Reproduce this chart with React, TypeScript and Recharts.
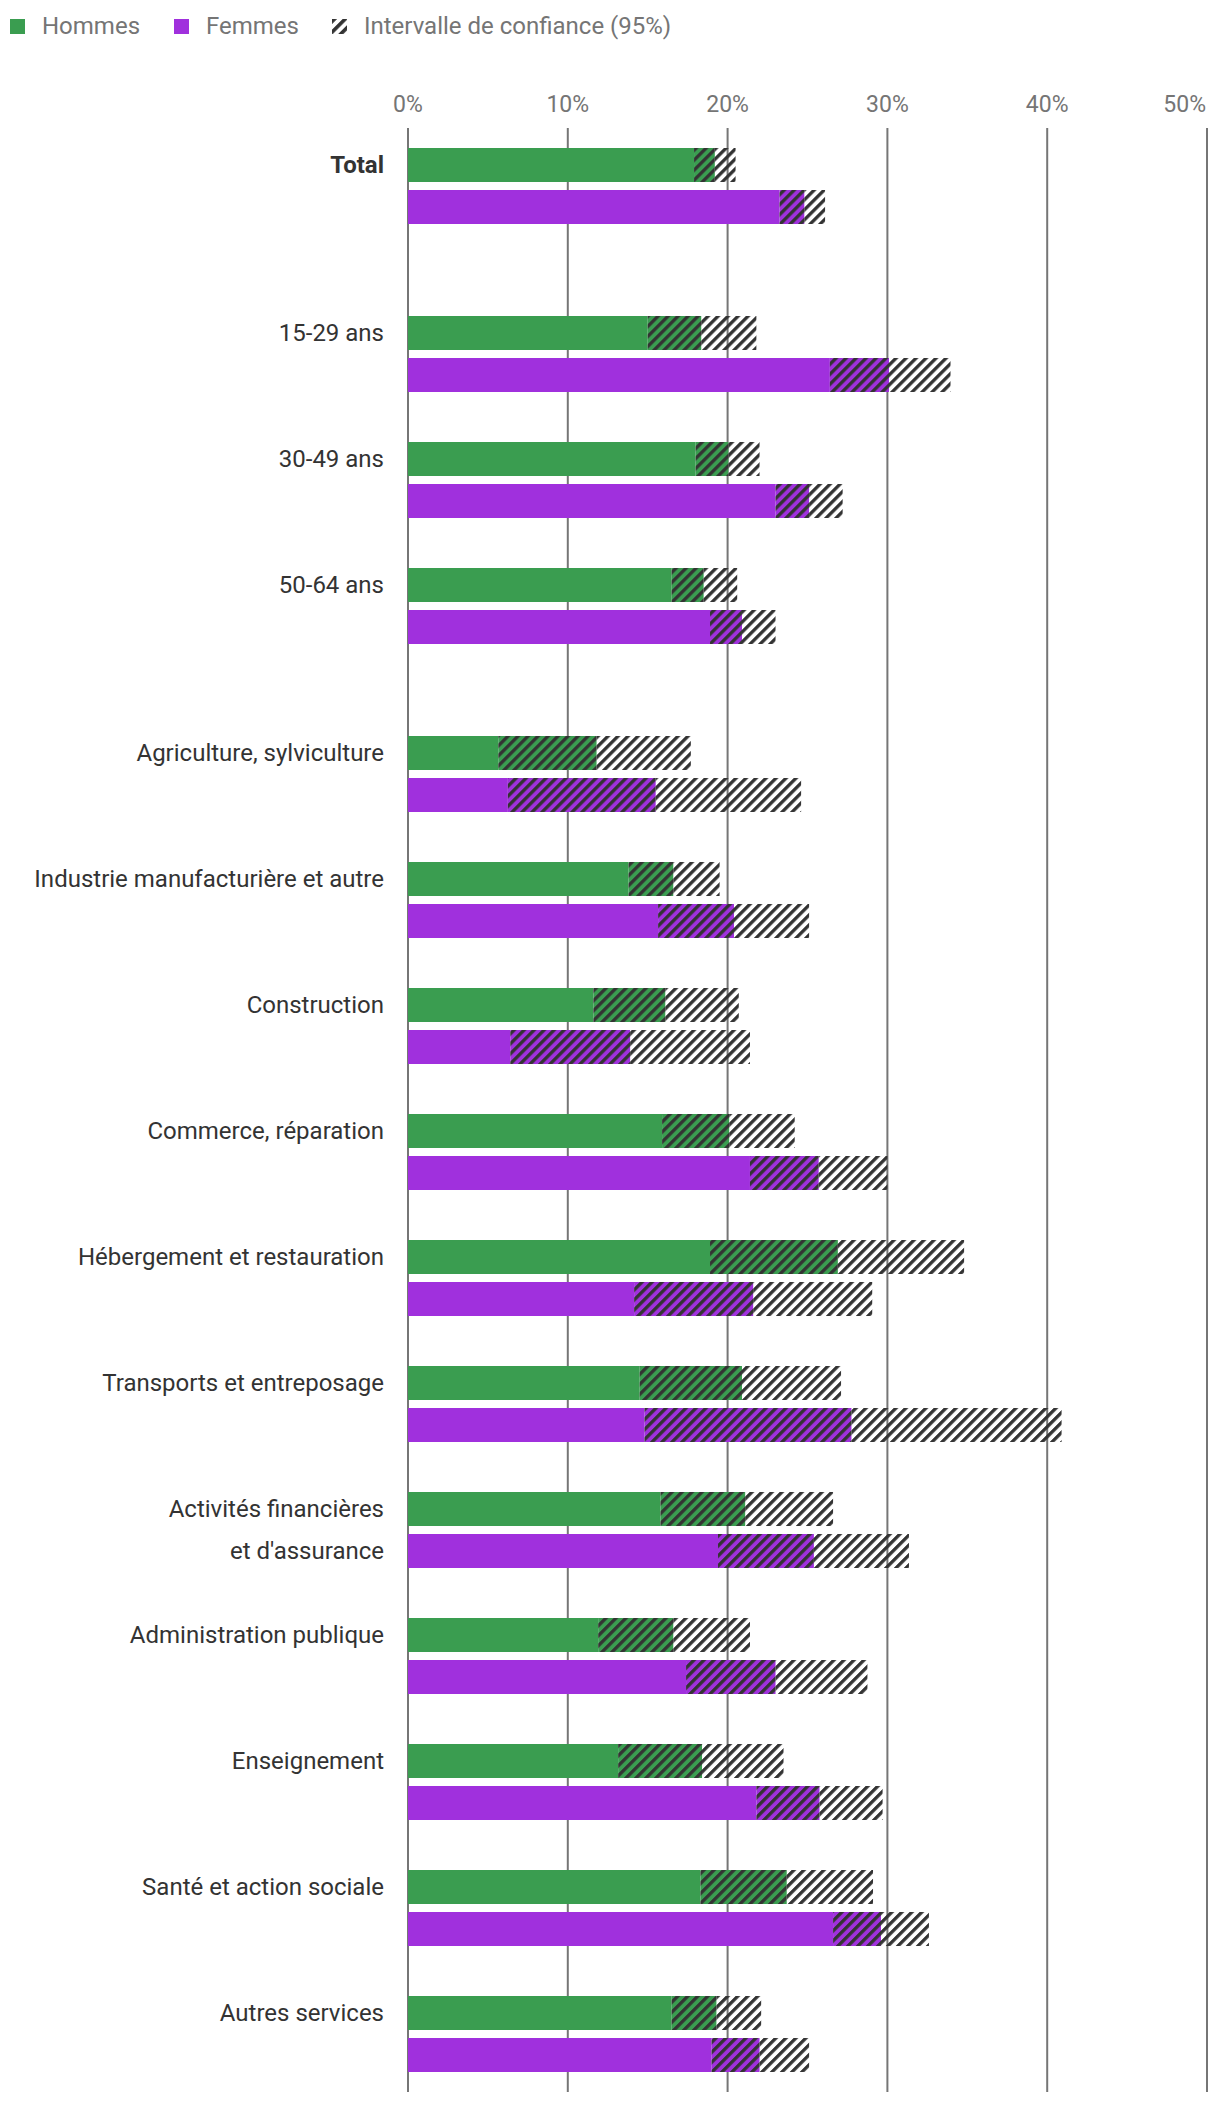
import { BarChart, Bar, XAxis, YAxis, CartesianGrid, Cell } from 'recharts';

const GREEN = '#3a9d50';
const PURPLE = '#a030dd';
const STRIPE = '#333333';
const GRID = '#767676';
const MUTED = '#757575';
const FONT = 'Roboto, "Noto Sans", sans-serif';

// categories, split in groups (a double gap separates groups)
const categories = [
  'Total',
  '15-29 ans',
  '30-49 ans',
  '50-64 ans',
  'Agriculture, sylviculture',
  'Industrie manufacturière et autre',
  'Construction',
  'Commerce, réparation',
  'Hébergement et restauration',
  'Transports et entreposage',
  "Activités financières\net d'assurance",
  'Administration publique',
  'Enseignement',
  'Santé et action sociale',
  'Autres services',
];
const groupSizes = [1, 3, 11];

// % : lower bound, estimate, upper bound of the 95% interval
const menLow = [17.9, 15.0, 18.0, 16.5, 5.65, 13.8, 11.6, 15.9, 18.9, 14.5, 15.8, 11.9, 13.15, 18.3, 16.5];
const menEst = [19.2, 18.35, 20.05, 18.5, 11.8, 16.6, 16.1, 20.1, 26.9, 20.9, 21.1, 16.6, 18.4, 23.7, 19.3];
const menHigh = [20.5, 21.8, 22.0, 20.6, 17.7, 19.5, 20.7, 24.2, 34.8, 27.1, 26.6, 21.4, 23.5, 29.1, 22.1];
const womenLow = [23.25, 26.4, 23.0, 18.9, 6.25, 15.65, 6.4, 21.4, 14.15, 14.8, 19.4, 17.4, 21.8, 26.6, 19.0];
const womenEst = [24.8, 30.1, 25.1, 20.9, 15.5, 20.4, 13.9, 25.7, 21.6, 27.75, 25.4, 23.0, 25.75, 29.6, 22.0];
const womenHigh = [26.1, 33.95, 27.2, 23.0, 24.6, 25.1, 21.4, 30.0, 29.05, 40.9, 31.35, 28.75, 29.7, 32.6, 25.1];

const xTicks = [0, 10, 20, 30, 40, 50];

type Row = {
  id: string;
  text?: string;
  bold?: boolean;
  sex?: 'h' | 'f';
  low?: number;
  ciLow?: number;
  ciHigh?: number;
};

function buildRows(): Row[] {
  const rows: Row[] = [];
  let gap = 0;
  let idx = 0;
  const blank = () => rows.push({ id: `gap-${gap++}` });
  groupSizes.forEach((size, gi) => {
    for (let k = 0; k < size; k++) {
      const i = idx++;
      const lines = categories[i].split('\n');
      const bold = i === 0;
      rows.push({
        id: `h-${i}`,
        text: lines[0],
        bold,
        sex: 'h',
        low: menLow[i],
        ciLow: +(menEst[i] - menLow[i]).toFixed(2),
        ciHigh: +(menHigh[i] - menEst[i]).toFixed(2),
      });
      rows.push({
        id: `f-${i}`,
        text: lines[1],
        bold,
        sex: 'f',
        low: womenLow[i],
        ciLow: +(womenEst[i] - womenLow[i]).toFixed(2),
        ciHigh: +(womenHigh[i] - womenEst[i]).toFixed(2),
      });
      if (k < size - 1) blank();
    }
    if (gi < groupSizes.length - 1) {
      blank();
      blank();
    }
  });
  return rows;
}

const rows = buildRows();
const rowById: Record<string, Row> = Object.fromEntries(rows.map((r) => [r.id, r]));

function CategoryTick({ x, y, payload }: any) {
  const row = rowById[payload.value];
  if (!row || !row.text) return null;
  return (
    <text
      x={x}
      y={y}
      dy="0.35em"
      textAnchor="end"
      fill="#333"
      fontSize={24}
      fontFamily={FONT}
      fontWeight={row.bold ? 700 : 400}
    >
      {row.text}
    </text>
  );
}

function PercentTick({ x, y, payload }: any) {
  const last = payload.value === xTicks[xTicks.length - 1];
  return (
    <text
      x={last ? x - 1 : x}
      y={y}
      textAnchor={last ? 'end' : 'middle'}
      fill={MUTED}
      fontSize={23}
      fontFamily={FONT}
    >
      {`${payload.value}%`}
    </text>
  );
}

function Hatch({ id, bg }: { id: string; bg?: string }) {
  return (
    <pattern id={id} patternUnits="userSpaceOnUse" width={7.07} height={7.07} patternTransform="rotate(45)">
      {bg && <rect width={7.07} height={7.07} fill={bg} />}
      <rect width={3.3} height={7.07} fill={STRIPE} />
    </pattern>
  );
}

function Legend() {
  const item = { display: 'flex', alignItems: 'center' } as const;
  const square = (c: string) => ({ width: 15, height: 15, background: c });
  return (
    <div
      style={{
        height: 36,
        display: 'flex',
        alignItems: 'center',
        fontFamily: FONT,
        fontSize: 24,
        color: MUTED,
        paddingLeft: 2,
      }}
    >
      <div style={item}>
        <span style={square(GREEN)} />
        <span style={{ marginLeft: 17 }}>Hommes</span>
      </div>
      <div style={{ ...item, marginLeft: 34 }}>
        <span style={square(PURPLE)} />
        <span style={{ marginLeft: 17 }}>Femmes</span>
      </div>
      <div style={{ ...item, marginLeft: 33 }}>
        <svg width={15} height={15}>
          <rect width={15} height={15} fill="url(#hatch-legend)" />
        </svg>
        <span style={{ marginLeft: 17 }}>Intervalle de confiance (95%)</span>
      </div>
    </div>
  );
}

export default function App() {
  return (
    <div style={{ width: 1212 }}>
      <svg width={0} height={0} style={{ position: 'absolute' }}>
        <defs>
          <pattern id="hatch-legend" patternUnits="userSpaceOnUse" width={7.5} height={7.5} patternTransform="rotate(45)">
            <rect width={3.6} height={7.5} fill={STRIPE} />
          </pattern>
        </defs>
      </svg>
      <Legend />
      <BarChart
        width={1212}
        height={2056}
        data={rows}
        layout="vertical"
        margin={{ top: 4, right: 13, bottom: 8, left: 0 }}
      >
        <defs>
          <Hatch id="hatch-green" bg={GREEN} />
          <Hatch id="hatch-purple" bg={PURPLE} />
          <Hatch id="hatch-clear" />
        </defs>
        <CartesianGrid horizontal={false} stroke={GRID} strokeWidth={2} />
        <XAxis
          type="number"
          orientation="top"
          domain={[0, 50]}
          ticks={xTicks}
          height={80}
          axisLine={false}
          tickLine={false}
          tickSize={0}
          tickMargin={16}
          tick={<PercentTick />}
        />
        <YAxis
          type="category"
          dataKey="id"
          width={400}
          axisLine={false}
          tickLine={false}
          tickSize={0}
          tickMargin={24}
          interval={0}
          padding={{ top: 16, bottom: 16 }}
          tick={<CategoryTick />}
        />
        <Bar dataKey="low" stackId="s" barSize={34} isAnimationActive={false}>
          {rows.map((r) => (
            <Cell key={r.id} fill={r.sex === 'f' ? PURPLE : GREEN} />
          ))}
        </Bar>
        <Bar dataKey="ciLow" stackId="s" barSize={34} isAnimationActive={false}>
          {rows.map((r) => (
            <Cell key={r.id} fill={r.sex === 'f' ? 'url(#hatch-purple)' : 'url(#hatch-green)'} />
          ))}
        </Bar>
        <Bar dataKey="ciHigh" stackId="s" barSize={34} fill="url(#hatch-clear)" isAnimationActive={false} />
      </BarChart>
    </div>
  );
}
